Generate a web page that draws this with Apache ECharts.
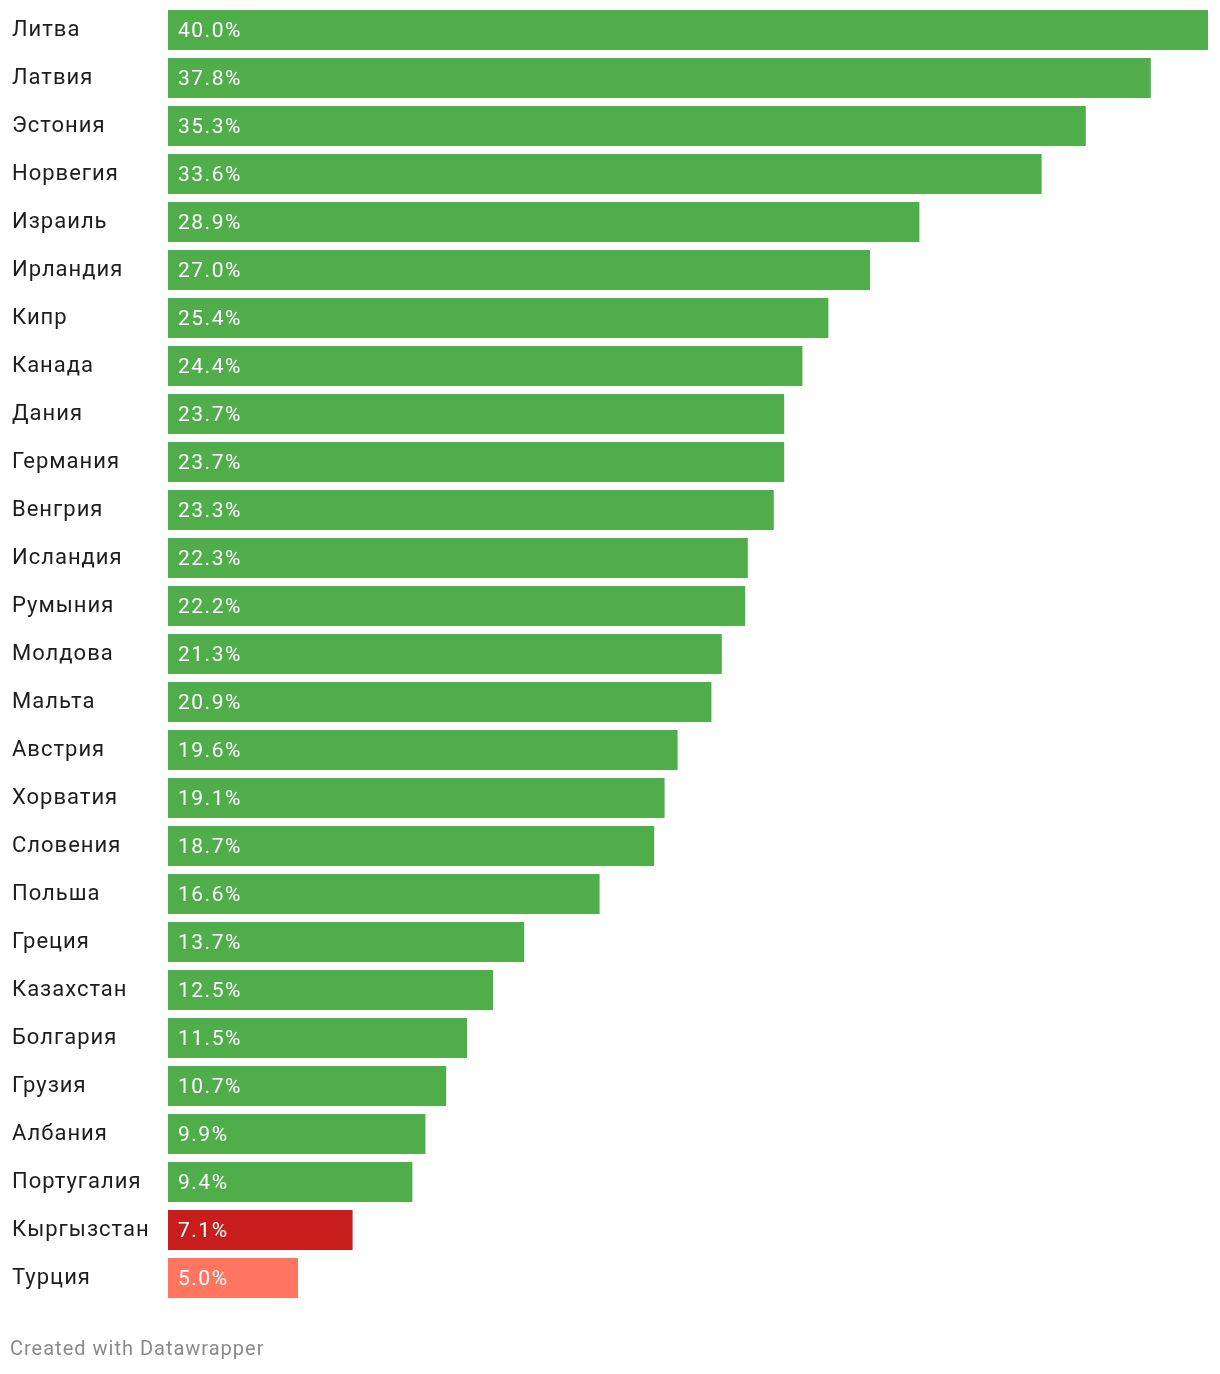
<!DOCTYPE html>
<html><head><meta charset="utf-8">
<script src="https://cdn.jsdelivr.net/npm/echarts@6/dist/echarts.min.js"></script>
<style>html,body{margin:0;padding:0;background:#fff}#c{width:1220px;height:1374px}</style>
</head><body><div id="c"></div>
<script>
const countries = ["Литва","Латвия","Эстония","Норвегия","Израиль","Ирландия","Кипр","Канада","Дания","Германия","Венгрия","Исландия","Румыния","Молдова","Мальта","Австрия","Хорватия","Словения","Польша","Греция","Казахстан","Болгария","Грузия","Албания","Португалия","Кыргызстан","Турция"];
const values = [40.0,37.8,35.3,33.6,28.9,27.0,25.4,24.4,23.7,23.7,23.3,22.3,22.2,21.3,20.9,19.6,19.1,18.7,16.6,13.7,12.5,11.5,10.7,9.9,9.4,7.1,5.0];
const highlight = {"Кыргызстан":"#c71e1d","Турция":"#ff7560"};
const baseColor = "#4fae4a";

// slight letter spacing like the reference rendering
(function(){
  const P = CanvasRenderingContext2D.prototype;
  const orig = P.fillText;
  P.fillText = function(t,x,y,w){
    const fs = String(this.fillStyle).toLowerCase();
    try { this.letterSpacing = (fs === '#ffffff' || fs === 'rgb(255, 255, 255)') ? '1.5px' : '1px'; } catch(e){}
    return orig.call(this,t,x,y,w);
  };
})();

const chart = echarts.init(document.getElementById('c'), null, {renderer:'canvas'});
chart.setOption({
  animation:false,
  textStyle:{fontFamily:'Roboto'},
  grid:{left:168,right:12,top:6,bottom:72,containLabel:false},
  xAxis:{type:'value',min:0,max:40,show:false},
  yAxis:{type:'category',inverse:true,data:countries,
    axisLine:{show:false},axisTick:{show:false},splitLine:{show:false},
    axisLabel:{align:'left',margin:156,fontSize:22,color:'#1d1d1d',fontFamily:'Roboto',padding:[4,0,0,0]}},
  series:[{type:'bar',barWidth:40,
    data:countries.map((c,i)=>({value:values[i],itemStyle:{color:highlight[c]||baseColor}})),
    label:{show:true,position:'insideLeft',distance:10,color:'#ffffff',fontSize:21,fontFamily:'Roboto',offset:[0,2],
      formatter:p=>p.value.toFixed(1)+'%'}
  }],
  graphic:[{type:'text',left:10,top:1340,style:{text:'Created with Datawrapper',fontSize:20,fill:'#8a8a8a',fontFamily:'Roboto'}}]
});
</script></body></html>
